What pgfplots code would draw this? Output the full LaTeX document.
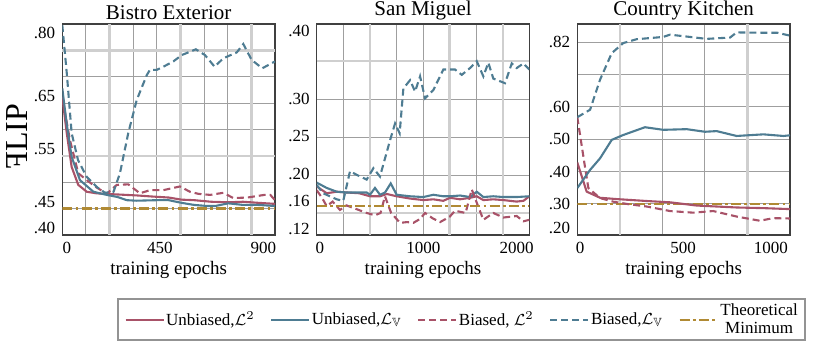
\documentclass[border=0pt]{standalone}
\usepackage{fontspec}
\setmainfont{Liberation Serif}
\usepackage{amssymb}
\usepackage{graphicx}
\usepackage{pgfplots}
\pgfplotsset{compat=1.18}
\definecolor{cred}{RGB}{168,82,104}
\definecolor{cblue}{RGB}{78,124,146}
\definecolor{cgold}{RGB}{176,138,52}
\pgfplotsset{
  panel/.style={
    scale only axis, width=106.35pt, height=105.5pt, anchor=south west,
    axis line style={black!75, line width=0.6pt},
    major tick length=0pt, minor tick length=0pt,
    xmajorgrids=false, ymajorgrids=false,
    xminorgrids=true, yminorgrids=true,
    minor grid style={gray!75, line width=0.45pt},
    tick label style={font=\fontsize{8.5}{10}\selectfont},
    title style={font=\fontsize{10.5}{12}\selectfont, yshift=-7.5pt},
    xlabel={training epochs},
    xlabel style={font=\fontsize{9.5}{11}\selectfont, yshift=3pt},
    extra x tick style={grid=major, major grid style={gray!38, line width=1.3pt}, major tick length=0pt},
    extra y tick style={grid=major, major grid style={gray!38, line width=1.3pt}, major tick length=0pt},
    extra x tick labels={}, extra y tick labels={},
  },
  ul2/.style={cred, line width=1.05pt},
  ulv/.style={cblue, line width=1.05pt},
  bl2/.style={cred, line width=1.05pt, dash pattern=on 3.5pt off 2pt},
  blv/.style={cblue, line width=1.05pt, dash pattern=on 3.5pt off 2pt},
  tmin/.style={cgold, line width=1.2pt, dash pattern=on 5pt off 1.6pt on 1.4pt off 1.6pt},
}
\begin{document}
\begin{tikzpicture}
\path[use as bounding box] (0,0) rectangle (415pt,175.5pt);
% ---------------- Bistro Exterior ----------------
\begin{axis}[panel, at={(31.15pt,58pt)},
  title={Bistro Exterior},
  xmin=0, xmax=1000, ymin=0.40, ymax=0.80,
  xtick={21,459,945}, xticklabels={0,450,900},
  ytick={0.413,0.463,0.563,0.6635,0.7835}, yticklabels={.40,.45,.55,.65,.80},
  minor xtick={111.1,333.3,444.4,666.7,777.8},
  extra x ticks={222.2,555.6,888.9},
  minor ytick={0.45,0.50,0.60,0.65,0.70},
  extra y ticks={0.55,0.75},
  ylabel={\reflectbox{F}LIP},
  every axis y label/.style={at={(axis description cs:-0.213,0.465)}, rotate=90, anchor=center, font=\fontsize{16}{18}\selectfont},
]
\addplot[tmin] coordinates {(0,0.45) (1000,0.45)};
\addplot[bl2] coordinates {(0,.66) (36,.58) (75,.517) (115,.504) (162,.49) (209,.478) (256,.495) (310,.496) (365,.479) (412,.485) (475,.485) (553,.492) (600,.482) (640,.478) (695,.476) (757,.48) (804,.47) (870,.471) (950,.476) (978,.476) (1000,.466)};
\addplot[ul2] coordinates {(0,.662) (21,.593) (44,.529) (75,.495) (115,.482) (160,.479) (250,.477) (350,.475) (420,.473) (500,.471) (560,.467) (620,.466) (700,.463) (780,.462) (850,.463) (920,.461) (1000,.459)};
\addplot[ulv] coordinates {(0,.678) (21,.61) (44,.548) (83,.504) (146,.482) (209,.476) (260,.472) (303,.466) (350,.465) (444,.466) (500,.466) (560,.461) (620,.457) (680,.455) (720,.455) (780,.46) (850,.457) (920,.457) (1000,.455)};
\addplot[blv] coordinates {(0,.798) (21,.707) (44,.593) (74,.542) (115,.510) (162,.491) (201,.480) (241,.482) (271,.517) (310,.593) (350,.656) (397,.703) (412,.713) (444,.713) (475,.719) (522,.729) (561,.741) (628,.752) (671,.741) (716,.719) (757,.735) (820,.746) (851,.762) (890,.732) (940,.716) (1000,.729)};
\end{axis}
% ---------------- San Miguel ----------------
\begin{axis}[panel, at={(158.35pt,58pt)},
  title={San Miguel},
  xmin=0, xmax=2000, ymin=0.121, ymax=0.399,
  xtick={31,1003,1881}, xticklabels={0,1000,2000},
  ytick={0.129,0.1653,0.2013,0.2508,0.30,0.390}, yticklabels={.12,.16,.20,.25,.30,.40},
  minor xtick={250,750,1000,1500},
  extra x ticks={500,1250,1750},
  minor ytick={0.20,0.25,0.30},
  extra y ticks={0.15,0.35},
  legend columns=5,
  legend style={at={(axis description cs:0.683,-0.30)}, anchor=north,
    draw=gray!85, line width=1pt, font=\fontsize{8.5}{9}\selectfont,
    nodes={inner xsep=0.8pt, inner ysep=0.6pt},
    cells={align=center, anchor=west},
    column sep=0pt, /tikz/every even column/.append style={column sep=7pt},
    inner xsep=3pt, inner ysep=1.5pt},
  legend image code/.code={\draw[#1] (0pt,0pt) -- (19pt,0pt);},
]
\addplot[ul2] coordinates {(0,.185) (94,.176) (188,.178) (282,.177) (400,.176) (501,.172) (595,.172) (660,.175) (752,.172) (878,.169) (1003,.167) (1097,.168) (1190,.166) (1254,.170) (1348,.168) (1442,.170) (1505,.172) (1567,.167) (1660,.168) (1755,.167) (1880,.165) (1944,.166) (2000,.172)};
\addlegendentry{Unbiased,$\mathcal{L}^2$}
\addplot[ulv] coordinates {(0,.19) (94,.183) (188,.178) (282,.177) (470,.177) (501,.174) (548,.183) (595,.174) (643,.177) (696,.189) (752,.174) (878,.172) (1003,.171) (1097,.174) (1190,.172) (1254,.172) (1348,.173) (1442,.171) (1505,.178) (1567,.171) (1660,.172) (1755,.171) (1880,.171) (2000,.172)};
\addlegendentry{Unbiased,$\mathcal{L}_{\mathbb{V}}$}
\addplot[bl2] coordinates {(0,.18) (50,.17) (94,.159) (150,.165) (219,.154) (280,.16) (376,.155) (470,.150) (548,.147) (600,.15) (642,.172) (700,.15) (784,.137) (850,.138) (909,.137) (970,.142) (1019,.15) (1090,.143) (1160,.138) (1250,.145) (1301,.153) (1400,.15) (1458,.181) (1520,.158) (1567,.141) (1661,.15) (1755,.144) (1881,.146) (1943,.139) (2000,.141)};
\addlegendentry{Biased, $\mathcal{L}^2$}
\addplot[blv] coordinates {(0,.187) (60,.176) (188,.168) (250,.166) (313,.205) (380,.200) (470,.194) (533,.209) (595,.198) (690,.246) (737,.268) (780,.255) (815,.314) (878,.325) (925,.31) (972,.33) (1019,.301) (1097,.312) (1191,.339) (1301,.339) (1364,.332) (1442,.341) (1505,.35) (1567,.33) (1614,.348) (1661,.327) (1771,.321) (1834,.347) (1881,.341) (1944,.347) (2000,.339)};
\addlegendentry{Biased,$\mathcal{L}_{\mathbb{V}}$}
\addplot[tmin] coordinates {(0,0.159) (2000,0.159)};
\addlegendentry{Theoretical\\Minimum}
\end{axis}
% ---------------- Country Kitchen ----------------
\begin{axis}[panel, at={(288.65pt,58pt)},
  title={Country Kitchen},
  xmin=0, xmax=1000, ymin=0.204, ymax=0.856,
  xtick={13,498,910}, xticklabels={0,500,1000},
  ytick={0.226,0.30,0.40,0.50,0.60,0.80}, yticklabels={.20,.30,.40,.50,.60,.82},
  minor xtick={400,600},
  extra x ticks={200,800},
  minor ytick={0.3,0.4,0.5,0.6,0.7,0.8},
]
\addplot[tmin] coordinates {(0,0.30) (1000,0.30)};
\addplot[bl2] coordinates {(0,.568) (36,.415) (52,.349) (107,.318) (169,.307) (232,.30) (326,.292) (436,.278) (545,.273) (639,.278) (749,.261) (858,.248) (921,.256) (1000,.255)};
\addplot[ul2] coordinates {(0,.428) (44,.338) (107,.319) (185,.315) (326,.309) (436,.305) (561,.295) (749,.289) (875,.287) (1000,.284)};
\addplot[ulv] coordinates {(0,.349) (60,.405) (107,.441) (162,.498) (216,.513) (318,.537) (404,.529) (514,.531) (600,.523) (655,.525) (749,.51) (875,.515) (969,.51) (1000,.512)};
\addplot[blv] coordinates {(0,.568) (60,.591) (107,.684) (162,.766) (216,.797) (279,.809) (404,.816) (436,.823) (530,.816) (608,.81) (660,.812) (718,.814) (749,.83) (875,.829) (940,.829) (1000,.82)};
\end{axis}
\end{tikzpicture}
\end{document}
